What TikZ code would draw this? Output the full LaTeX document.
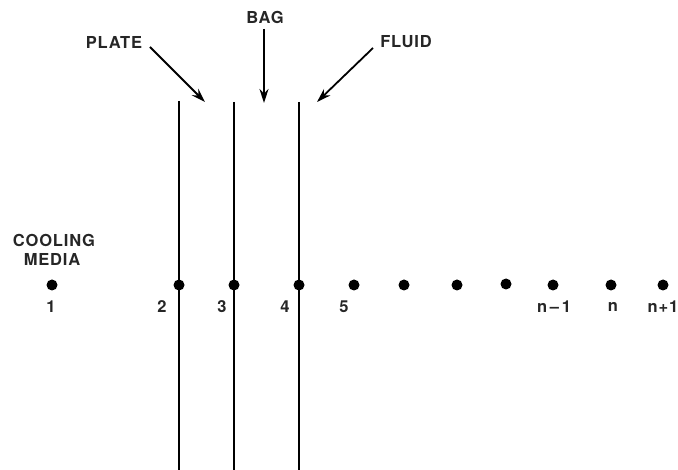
\documentclass[tikz,border=0pt]{standalone}
\usepackage{fontspec}
\setmainfont{TeX Gyre Heros}[LetterSpace=5]
\usetikzlibrary{arrows.meta}
\begin{document}
\begin{tikzpicture}[x=1pt,y=-1pt,
  dot/.style={circle,fill=black,inner sep=0pt,minimum size=11pt},
  lbl/.style={font=\fontsize{16.5}{19}\selectfont\bfseries,inner sep=0pt,text=black!85},
  wall/.style={line width=2.4pt},
  ptr/.style={line width=1.8pt,-{Stealth[length=14pt,width=9pt]}}]
\useasboundingbox (0,0) rectangle (678,470);
% dots
\node[dot] (d1) at (52,285) {};
\node[dot] (d2) at (179,285) {};
\node[dot] (d3) at (234,285) {};
\node[dot] (d4) at (299,285) {};
\node[dot] (d5) at (354,285) {};
\node[dot] (d6) at (404,285) {};
\node[dot] (d7) at (457,285) {};
\node[dot] (d8) at (506,284) {};
\node[dot] (d9) at (553,285) {};
\node[dot] (d10) at (611,285) {};
\node[dot] (d11) at (663,285) {};
% walls
\coordinate (t2) at (179,101); \coordinate (b2) at (179,470);
\coordinate (t3) at (234,102); \coordinate (b3) at (234,470);
\coordinate (t4) at (299,102); \coordinate (b4) at (299,470);
\draw[wall] (t2) -- (d2.center) -- (b2);
\draw[wall] (t3) -- (d3.center) -- (b3);
\draw[wall] (t4) -- (d4.center) -- (b4);
% numbers
\node[lbl] (n1) at (51,307) {1};
\node[lbl] (n2) at (162,307) {2};
\node[lbl] (n3) at (222,307) {3};
\node[lbl] (n4) at (285,307) {4};
\node[lbl] (n5) at (344,307) {5};
\node[lbl] (n9) at (554,307) {n\,–\,1};
\node[lbl] (n10) at (613,307) {n};
\node[lbl] (n11) at (663,307) {n+1};
% cooling media
\node[lbl] (cool) at (54,240) {COOLING};
\node[lbl] (media) at (52,259) {MEDIA};
% top labels
\node[lbl] (plate) at (114,42) {PLATE};
\node[lbl] (bag) at (265,17) {BAG};
\node[lbl] (fluid) at (406,42) {FLUID};
\coordinate (pa) at (150,47); \coordinate (pb) at (205,102);
\coordinate (ba) at (264,29); \coordinate (bb) at (264,103);
\coordinate (fa) at (373,48); \coordinate (fb) at (317,102);
\draw[ptr] (pa) -- (pb);
\draw[ptr] (ba) -- (bb);
\draw[ptr] (fa) -- (fb);
\end{tikzpicture}
\end{document}
